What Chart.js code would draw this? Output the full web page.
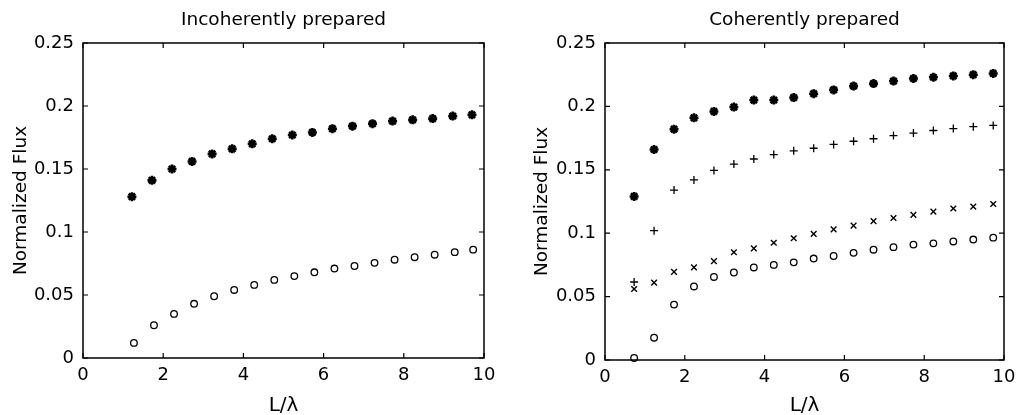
<!DOCTYPE html>
<html>
<head>
<meta charset="utf-8">
<script src="https://cdn.jsdelivr.net/npm/chart.js@4.4.1/dist/chart.umd.min.js"></script>
<style>
  html, body { margin: 0; padding: 0; background: #fff; }
  .panel { position: absolute; top: 0; height: 415px; }
  #left { left: 0; width: 512px; }
  #right { left: 512px; width: 511px; }
</style>
</head>
<body>
<div class="panel" id="left"><canvas id="chartIncoherent"></canvas></div>
<div class="panel" id="right"><canvas id="chartCoherent"></canvas></div>
<script>
var xTickValues = [0, 2, 4, 6, 8, 10];
var yTickValues = [0, 0.05, 0.1, 0.15, 0.2, 0.25];

// Incoherently prepared
var incohStarX = [1.22, 1.72, 2.22, 2.72, 3.22, 3.72, 4.22, 4.72, 5.22, 5.72, 6.22, 6.72, 7.22, 7.72, 8.22, 8.72, 9.22, 9.7];
var incohStar = [0.128, 0.141, 0.150, 0.156, 0.162, 0.166, 0.170, 0.174, 0.177, 0.179, 0.182, 0.184, 0.186, 0.188, 0.189, 0.190, 0.192, 0.193];
var incohCircleX = [1.27, 1.77, 2.27, 2.77, 3.27, 3.77, 4.27, 4.77, 5.27, 5.77, 6.27, 6.77, 7.27, 7.77, 8.27, 8.77, 9.27, 9.73];
var incohCircle = [0.012, 0.026, 0.035, 0.043, 0.049, 0.054, 0.058, 0.062, 0.065, 0.068, 0.071, 0.073, 0.0755, 0.078, 0.080, 0.082, 0.084, 0.086];

// Coherently prepared
var cohX = [0.73, 1.23, 1.73, 2.23, 2.73, 3.23, 3.73, 4.23, 4.73, 5.23, 5.73, 6.23, 6.73, 7.23, 7.73, 8.23, 8.73, 9.23, 9.73];
var cohStar = [0.129, 0.166, 0.182, 0.191, 0.196, 0.1995, 0.205, 0.205, 0.207, 0.210, 0.213, 0.216, 0.218, 0.220, 0.222, 0.223, 0.224, 0.225, 0.226];
var cohPlus = [0.0615, 0.102, 0.134, 0.142, 0.1495, 0.1545, 0.1585, 0.162, 0.165, 0.167, 0.170, 0.1725, 0.1745, 0.177, 0.179, 0.181, 0.1825, 0.184, 0.185];
var cohCross = [0.056, 0.061, 0.0695, 0.073, 0.078, 0.085, 0.088, 0.0925, 0.096, 0.0995, 0.103, 0.106, 0.1095, 0.112, 0.1145, 0.117, 0.1195, 0.121, 0.123];
var cohCircle = [0.0016, 0.0176, 0.0437, 0.058, 0.0655, 0.069, 0.073, 0.075, 0.077, 0.080, 0.082, 0.0845, 0.087, 0.089, 0.091, 0.092, 0.0935, 0.095, 0.0965];

var FONT = "'DejaVu Sans', sans-serif";

function toPoints(xs, ys) {
  return ys.map(function (y, i) { return { x: xs[i], y: y }; });
}

// box around the plot, inward ticks on all sides, and the title
var framePlugin = {
  id: "frame",
  afterDatasetsDraw: function (chart, args, opts) {
    var ctx = chart.ctx;
    var a = chart.chartArea;
    var xs = chart.scales.x;
    var ys = chart.scales.y;
    var len = 5;
    ctx.save();
    ctx.strokeStyle = "#000";
    ctx.lineWidth = 1.5;
    ctx.strokeRect(a.left, a.top, a.right - a.left, a.bottom - a.top);
    ctx.lineWidth = 1.2;
    ctx.beginPath();
    xTickValues.forEach(function (v) {
      var px = xs.getPixelForValue(v);
      ctx.moveTo(px, a.bottom);
      ctx.lineTo(px, a.bottom - len);
      ctx.moveTo(px, a.top);
      ctx.lineTo(px, a.top + len);
    });
    yTickValues.forEach(function (v) {
      var py = ys.getPixelForValue(v);
      ctx.moveTo(a.left, py);
      ctx.lineTo(a.left + len, py);
      ctx.moveTo(a.right, py);
      ctx.lineTo(a.right - len, py);
    });
    ctx.stroke();

    ctx.fillStyle = "#000";
    ctx.font = "18.5px " + FONT;
    ctx.textAlign = "center";
    ctx.textBaseline = "alphabetic";
    ctx.fillText(opts.title, (a.left + a.right) / 2, 25);
    ctx.restore();
  },
};

function makeChart(canvasId, title, datasets, yWidth, xHeight, padRight, yTitlePad) {
  return new Chart(document.getElementById(canvasId), {
    type: "scatter",
    data: { datasets: datasets },
    plugins: [framePlugin],
    options: {
      responsive: true,
      maintainAspectRatio: false,
      animation: false,
      layout: { padding: { top: 43, right: padRight, bottom: 0, left: 0 } },
      plugins: {
        legend: { display: false },
        tooltip: { enabled: false },
        frame: { title: title },
      },
      scales: {
        x: {
          type: "linear",
          min: 0,
          max: 10,
          afterBuildTicks: function (scale) {
            scale.ticks = xTickValues.map(function (v) { return { value: v }; });
          },
          afterFit: function (scale) { scale.height = xHeight; },
          grid: { display: false, drawTicks: false },
          border: { display: false },
          ticks: {
            color: "#000",
            padding: 7,
            font: { family: FONT, size: 18 },
            maxRotation: 0,
            callback: function (v) { return String(v); },
          },
          title: {
            display: true,
            text: "L/λ",
            color: "#000",
            font: { family: FONT, size: 20 },
            padding: { top: 0, bottom: -3 },
          },
        },
        y: {
          type: "linear",
          min: 0,
          max: 0.25,
          afterBuildTicks: function (scale) {
            scale.ticks = yTickValues.map(function (v) { return { value: v }; });
          },
          afterFit: function (scale) { scale.width = yWidth; },
          grid: { display: false, drawTicks: false },
          border: { display: false },
          ticks: {
            color: "#000",
            padding: 9,
            font: { family: FONT, size: 18 },
            callback: function (v) { return String(v); },
          },
          title: {
            display: true,
            text: "Normalized Flux",
            color: "#000",
            font: { family: FONT, size: 18.5 },
            padding: { top: yTitlePad, bottom: 0 },
          },
        },
      },
    },
  });
}

function series(xs, ys, style, radius, width) {
  return {
    data: toPoints(xs, ys),
    pointStyle: style,
    pointRadius: radius,
    pointBorderWidth: width,
    borderColor: "#000",
    backgroundColor: style === "circle" ? "rgba(0,0,0,0)" : "#000",
    showLine: false,
    clip: false,
  };
}

makeChart("chartIncoherent", "Incoherently prepared", [
  series(incohStarX, incohStar, "star", 4.5, 2.6),
  series(incohCircleX, incohCircle, "circle", 3.3, 1.3),
], 83, 57, 28, 10);

makeChart("chartCoherent", "Coherently prepared", [
  series(cohX, cohStar, "star", 4.5, 2.6),
  series(cohX, cohPlus, "cross", 4, 1.3),
  series(cohX, cohCross, "crossRot", 4, 1.4),
  series(cohX, cohCircle, "circle", 3.3, 1.3),
], 93, 55, 19, 19);
</script>
</body>
</html>
